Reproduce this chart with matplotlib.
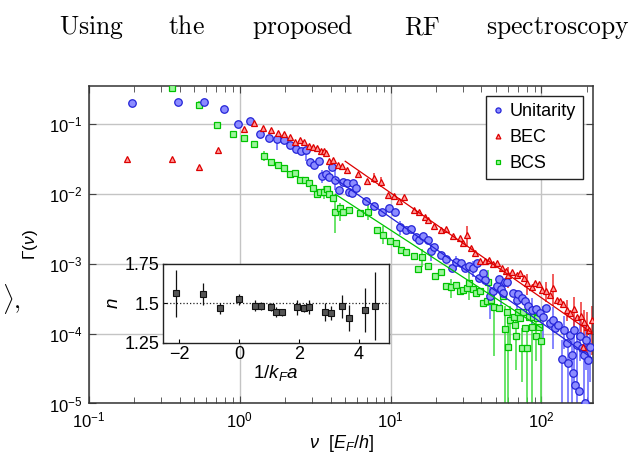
import numpy as np
import matplotlib
matplotlib.use('Agg')
import matplotlib.pyplot as plt
from matplotlib.lines import Line2D

plt.rcParams['font.family'] = ['Liberation Sans', 'DejaVu Sans']
plt.rcParams['mathtext.fontset'] = 'custom'
plt.rcParams['mathtext.rm'] = 'Liberation Sans'
plt.rcParams['mathtext.it'] = 'Liberation Sans:italic'
plt.rcParams['mathtext.bf'] = 'Liberation Sans:bold'

# ---- dados ----
# Unitarity (circulos azuis)
uni_nu = [0.194, 0.388, 0.583, 0.78, 0.975, 1.16, 1.36, 1.56, 1.76, 1.96, 2.15, 2.35, 2.53, 2.74,
          2.91, 3.11, 3.33, 3.52, 3.70, 3.88, 4.10, 4.28, 4.54, 4.84, 5.10, 5.29, 5.51, 5.65, 5.86,
          6.86, 7.78, 8.71, 9.74, 10.7, 11.6, 12.6, 13.6, 14.7, 15.5, 16.5, 17.6, 18.5, 19.4, 21.6,
          23.3, 25.4, 27.1, 29.1, 31.1, 33.2, 35.3, 37.2, 38.7, 40.8, 42.3, 45.6, 47.5, 50.5, 52.6,
          54.0, 55.8, 57.3, 58.9, 65.2, 68.6, 70.3, 74.0, 77.8, 81.8, 86.3, 92.0, 98.0, 103, 108,
          114, 119, 123, 129, 136, 141, 147, 151, 155, 159, 162, 164, 167, 171, 178, 179, 185, 192,
          195, 198, 205, 210]
uni_g = [0.195, 0.206, 0.202, 0.161, 0.100, 0.109, 0.071, 0.062, 0.060, 0.058, 0.050, 0.044, 0.040,
         0.042, 0.028, 0.026, 0.029, 0.018, 0.019, 0.0175, 0.0238, 0.0157, 0.0113, 0.0146, 0.0141,
         0.0107, 0.0101, 0.0141, 0.0122, 0.0079, 0.0067, 0.0055, 0.0062, 0.0055, 0.0033, 0.0030,
         0.0031, 0.0024, 0.0022, 0.0025, 0.0022, 0.0015, 0.00175, 0.00133, 0.00116, 0.00086,
         0.00107, 0.00101, 0.00086, 0.00091, 0.00086, 0.00101, 0.00062, 0.00073, 0.00058, 0.00034,
         0.00040, 0.00048, 0.00060, 0.00043, 0.00038, 0.00055, 0.00054, 0.00038, 0.00030, 0.00037,
         0.00032, 0.00029, 0.00025, 0.00022, 0.000223, 0.000196, 0.000171, 0.00023, 0.00014,
         0.000157, 0.000119, 0.000133, 4.3e-5, 0.000113, 7.3e-5, 3.8e-5, 9.6e-5, 5.0e-5, 2.7e-5,
         0.000113, 1.85e-5, 6.9e-5, 1.5e-5, 9.1e-5, 6.2e-5, 5.0e-5, 1.03e-5, 8.1e-5, 4.2e-5, 6.5e-5]
uni_err_nu = [1.76, 2.74, 3.52, 4.28, 11.6, 18.5, 27.1, 35.3, 45.6, 54.0, 68.6, 86.3, 103, 119, 136,
              141, 151, 159, 164, 171, 179, 192, 198, 205, 210]
uni_err_lo = [0.042, 0.029, 0.014, 0.0113, 0.0026, 0.0011, 0.0008, 0.00065, 0.00016, 0.00025,
              0.00018, 0.00012, 8e-5, 6e-5, 1e-5, 6e-5, 1e-5, 1e-5, 2e-5, 1e-5, 4e-5, 1e-5, 3e-5,
              1e-5, 2e-5]
uni_err_hi = [0.062, 0.044, 0.022, 0.026, 0.0040, 0.0019, 0.0013, 0.0011, 0.00045, 0.0006, 0.00042,
              0.00032, 0.00025, 0.00024, 8e-5, 0.00018, 7e-5, 1e-4, 0.00017, 1.2e-4, 1.5e-4, 9e-5,
              1.3e-4, 8e-5, 1e-4]

# BEC (triangulos vermelhos)
bec_nu = [0.179, 0.357, 0.535, 0.714, 1.07, 1.25, 1.43, 1.61, 1.80, 1.97, 2.15, 2.33, 2.49, 2.67,
          2.87, 3.07, 3.24, 3.43, 3.62, 3.72, 3.88, 4.16, 4.49, 4.73, 5.15, 6.10, 6.93, 7.78, 8.67,
          9.64, 10.6, 11.4, 12.3, 14.3, 15.5, 16.9, 17.8, 19.5, 21.6, 23.3, 25.8, 28.8, 30.0, 31.9,
          34.0, 36.3, 39.1, 42.3, 45.1, 48.0, 51.0, 54.5, 58.2, 60.3, 63.5, 68.6, 72.1, 76.7, 80.6,
          86.3, 90.7, 96.8, 100.5, 108, 114, 120, 126, 133, 140, 147, 155, 164, 173, 183, 188, 192,
          200, 208, 216]
bec_g = [0.0313, 0.0316, 0.024, 0.0425, 0.084, 0.103, 0.087, 0.082, 0.074, 0.071, 0.064, 0.055,
         0.058, 0.054, 0.048, 0.046, 0.045, 0.040, 0.041, 0.0385, 0.029, 0.030, 0.0257, 0.0249,
         0.0218, 0.0193, 0.0152, 0.0166, 0.0148, 0.0096, 0.0091, 0.0079, 0.0089, 0.0059, 0.0055,
         0.0046, 0.0042, 0.0035, 0.0030, 0.0031, 0.0025, 0.0023, 0.0020, 0.0026, 0.00166, 0.00141,
         0.00109, 0.00109, 0.00113, 0.00098, 0.00101, 0.00086, 0.00079, 0.00069, 0.00076, 0.00069,
         0.00073, 0.00062, 0.00052, 0.00047, 0.00052, 0.00051, 0.00042, 0.00040, 0.00036, 0.00045,
         0.00030, 0.00029, 0.00026, 0.00022, 0.000196, 0.000223, 0.000171, 0.000179, 6.4e-5,
         0.000148, 0.000126, 0.000113, 0.000157]
bec_err_nu = [7.78, 8.67, 31.9, 60.3, 80.6, 108, 120, 147, 164, 183, 192, 200, 216]
bec_err_lo = [0.014, 0.0126, 0.0018, 0.00045, 0.00035, 0.00028, 0.00025, 0.00015, 0.00012, 9e-5,
              8e-5, 4e-5, 5e-5]
bec_err_hi = [0.0195, 0.0171, 0.0034, 0.0009, 0.0007, 0.00055, 0.0007, 0.0003, 0.00033, 0.00028,
              0.00022, 0.0002, 0.00025]

# BCS (quadrados verdes)
bcs_nu = [0.357, 0.535, 0.71, 0.895, 1.07, 1.25, 1.44, 1.61, 1.79, 1.97, 2.14, 2.33, 2.49, 2.69,
          2.87, 3.05, 3.23, 3.40, 3.62, 3.78, 3.92, 4.12, 4.30, 4.60, 4.84, 5.28, 6.25, 7.10, 8.07,
          8.93, 9.89, 10.8, 11.7, 12.6, 14.3, 15.3, 16.1, 17.8, 19.7, 21.5, 23.3, 25.1, 27.1, 28.8,
          30.3, 31.9, 33.2, 35.0, 36.8, 39.1, 41.2, 43.4, 44.4, 46.1, 48.5, 52.6, 55.3, 57.4, 58.9,
          59.6, 62.0, 65.8, 66.8, 67.9, 70.3, 72.1, 74.0, 75.9, 77.8, 79.8, 83.2, 86.3, 88.3, 92.0,
          93.0, 96.8, 98.9]
bcs_g = [0.32, 0.185, 0.097, 0.071, 0.062, 0.052, 0.034, 0.0287, 0.0257, 0.0233, 0.019, 0.0198,
         0.0158, 0.0155, 0.0142, 0.012, 0.010, 0.0106, 0.0105, 0.0116, 0.010, 0.0086, 0.0055, 0.0062,
         0.0054, 0.0059, 0.0053, 0.0054, 0.0030, 0.0026, 0.0021, 0.0020, 0.00157, 0.00146, 0.00129,
         0.00083, 0.00123, 0.00093, 0.00067, 0.00077, 0.00048, 0.00046, 0.00050, 0.00040, 0.00042,
         0.00045, 0.00052, 0.00043, 0.00038, 0.00040, 0.00027, 0.00029, 0.00055, 0.00030, 0.00024,
         0.00023, 0.00034, 0.000117, 0.000206, 6.5e-5, 0.000157, 0.000175, 0.000133, 9.1e-5,
         0.000206, 0.000166, 6.2e-5, 0.000206, 0.000119, 6.2e-5, 0.000175, 0.000126, 0.000175,
         9.3e-5, 0.000166, 0.000126, 7.7e-5]
bcs_err_nu = [0.535, 1.44, 3.62, 4.30, 4.60, 7.10, 8.93, 16.1, 25.1, 33.2, 44.4, 48.5, 57.4, 59.6,
              62.0, 67.9, 74.0, 79.8, 86.3, 92.0, 98.9]
bcs_err_lo = [0.16, 0.029, 0.0085, 0.0027, 0.0040, 0.0042, 0.0019, 0.0009, 0.00032, 0.0003, 0.00025,
              4.7e-5, 1e-5, 1e-5, 6e-5, 3e-5, 2e-5, 1e-5, 1e-5, 4e-5, 1e-5]
bcs_err_hi = [0.21, 0.040, 0.013, 0.0081, 0.0074, 0.0068, 0.0034, 0.0016, 0.0006, 0.0008, 0.0008,
              0.00035, 0.00025, 0.00015, 0.00025, 0.00015, 0.00012, 0.00012, 0.0002, 0.00015, 0.00013]

# retas de ajuste (extremos)
fit_uni_nu = [4.3, 215]
fit_uni_g = [0.0162, 4.5e-5]
fit_bec_nu = [5.0, 215]
fit_bec_g = [0.029, 1.03e-4]
fit_bcs_nu = [4.3, 100]
fit_bcs_g = [0.0098, 1.2e-4]

# inset: expoente n contra 1/kFa
ins_x = [-2.1, -1.2, -0.62, 0.0, 0.52, 0.73, 1.07, 1.22, 1.44, 1.92, 2.17, 2.33, 2.88, 3.07, 3.43,
         3.67, 4.2, 4.52]
ins_n = [1.565, 1.56, 1.47, 1.527, 1.487, 1.483, 1.476, 1.447, 1.443, 1.475, 1.47, 1.475, 1.447,
         1.44, 1.483, 1.41, 1.46, 1.483]
ins_err = [0.148, 0.068, 0.035, 0.035, 0.032, 0.025, 0.025, 0.03, 0.023, 0.05, 0.026, 0.044, 0.056,
           0.042, 0.072, 0.083, 0.138, 0.216]

# cores
azul, azul_f, azul_e = '#2323d8', '#8c8cff', '#6464ff'
verm, verm_f, verm_e = '#dd0000', '#ff9a9a', '#ee3030'
verde, verde_f, verde_e = '#00c400', '#9cf59c', '#40dd40'

fig = plt.figure(figsize=(6.35, 4.57), dpi=100)
ax = fig.add_axes([0.1402, 0.1171, 0.7942, 0.6954])

ax.vlines(bcs_err_nu, bcs_err_lo, bcs_err_hi, color=verde_e, lw=1.1, zorder=2)
ax.plot(bcs_nu, bcs_g, 's', ms=5.0, mfc=verde_f, mec=verde, mew=0.9, zorder=3)
ax.vlines(uni_err_nu, uni_err_lo, uni_err_hi, color=azul_e, lw=1.1, zorder=2)
ax.plot(uni_nu, uni_g, 'o', ms=5.4, mfc=azul_f, mec=azul, mew=0.9, zorder=3)
ax.vlines(bec_err_nu, bec_err_lo, bec_err_hi, color=verm_e, lw=1.1, zorder=2)
ax.plot(bec_nu, bec_g, '^', ms=4.8, mfc=verm_f, mec=verm, mew=0.9, zorder=3)

ax.plot(fit_bcs_nu, fit_bcs_g, '-', color=verde, lw=0.9, zorder=4)
ax.plot(fit_uni_nu, fit_uni_g, '-', color=azul, lw=0.9, zorder=4)
ax.plot(fit_bec_nu, fit_bec_g, '-', color=verm, lw=0.9, zorder=4)

ax.set_xscale('log')
ax.set_yscale('log')
ax.set_xlim(0.1, 221)
ax.set_ylim(1e-5, 0.349)
ax.yaxis.set_minor_locator(matplotlib.ticker.NullLocator())
ax.grid(True, which='major', color='#c4c4c4', lw=1.0, zorder=0)
ax.set_axisbelow(True)
ax.tick_params(which='both', direction='in', top=True, right=True, labelsize=12, color='#444444')
ax.tick_params(which='major', length=5, pad=5)
ax.tick_params(which='minor', length=4)
for s in ax.spines.values():
    s.set_color('#333333')
    s.set_linewidth(1.1)

ax.set_xlabel(r'$\nu$  [$E_F/h$]', fontsize=13, labelpad=2)
ax.set_ylabel(r'$\Gamma(\nu)$', fontsize=12.5, labelpad=6)

handles = [
    Line2D([], [], ls='none', marker='o', ms=4.6, mfc=azul_f, mec=azul, mew=0.9),
    Line2D([], [], ls='none', marker='^', ms=4.3, mfc=verm_f, mec=verm, mew=0.9),
    Line2D([], [], ls='none', marker='s', ms=4.3, mfc=verde_f, mec=verde, mew=0.9),
]
leg = ax.legend(handles, ['Unitarity', 'BEC', 'BCS'], loc='upper right', fontsize=13,
                frameon=True, fancybox=False, edgecolor='#222222', framealpha=1,
                handlelength=0.6, handletextpad=0.35, borderpad=0.4, labelspacing=0.5,
                borderaxespad=0.55, markerscale=0.8)
leg.get_frame().set_linewidth(1.0)
leg.set_zorder(10)

# inset
axi = fig.add_axes([0.2567, 0.2495, 0.356, 0.1729])
axi.set_zorder(5)
axi.axhline(1.5, color='#222222', lw=0.9, ls=':')
axi.errorbar(ins_x, ins_n, yerr=ins_err, fmt='s', ms=4.4, mfc='#555555', mec='#111111', mew=0.8,
             ecolor='#111111', elinewidth=0.9, capsize=0)
axi.set_xlim(-2.53, 5.0)
axi.set_ylim(1.25, 1.75)
axi.set_xticks([-2, 0, 2, 4])
axi.set_yticks([1.25, 1.5, 1.75])
axi.set_yticklabels(['1.25', '1.5', '1.75'])
axi.tick_params(direction='in', length=3, labelsize=13, pad=2.5)
axi.set_xlabel(r'$1/k_F a$', fontsize=13.5, labelpad=0)
axi.set_ylabel(r'$n$', fontsize=13.5, labelpad=2)
for s in axi.spines.values():
    s.set_linewidth(1.0)
    s.set_color('#222222')

# texto da pagina que aparece no recorte
for palavra, xp in [('Using', 59), ('the', 168), ('proposed', 252), ('RF', 404),
                    ('spectroscopy', 486)]:
    fig.text(xp / 635, 0.9256, r'$\mathrm{%s}$' % palavra, fontsize=18.5, math_fontfamily='cm',
             ha='left', va='baseline')
fig.text(2 / 635, 0.326, r'$\rangle,$', fontsize=18, math_fontfamily='cm', ha='left',
         va='baseline')

fig.savefig('out.png', dpi=100)
